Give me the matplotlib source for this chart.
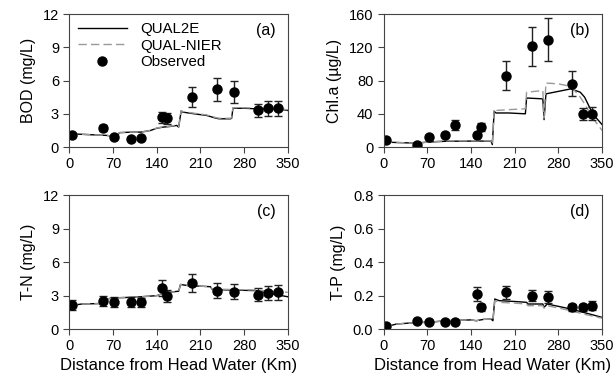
import numpy as np
import matplotlib
matplotlib.use('Agg')
import matplotlib.pyplot as plt
from matplotlib.lines import Line2D

plt.rcParams['font.family'] = ['Liberation Sans', 'DejaVu Sans']
plt.rcParams['font.size'] = 10

# observed stations (km from head water)
x_obs = [4, 54, 72, 98, 114, 149, 156, 196, 237, 263, 302, 319, 334]
bod = [1.1, 1.7, 0.9, 0.7, 0.8, 2.7, 2.6, 4.5, 5.2, 5.0, 3.3, 3.5, 3.5]
bod_err = [0.1, 0.25, 0.1, 0.1, 0.1, 0.5, 0.5, 0.9, 1.0, 1.0, 0.6, 0.7, 0.7]
chla = [8, 2.5, 12.5, 14.5, 27, 14, 24, 86, 121, 129, 76, 40, 40]
chla_err = [1, 1, 2, 2, 6, 2, 5, 17, 24, 26, 15, 7, 8]
tn = [2.2, 2.55, 2.4, 2.4, 2.4, 3.7, 2.95, 4.1, 3.45, 3.35, 3.1, 3.25, 3.3]
tn_err = [0.45, 0.45, 0.45, 0.45, 0.4, 0.7, 0.55, 0.8, 0.7, 0.65, 0.6, 0.65, 0.65]
tp = [0.02, 0.05, 0.04, 0.04, 0.04, 0.21, 0.13, 0.22, 0.20, 0.19, 0.13, 0.13, 0.14]
tp_err = [0.005, 0.008, 0.005, 0.005, 0.005, 0.04, 0.02, 0.04, 0.035, 0.035, 0.02, 0.02, 0.025]

# model results
bod_x = [0, 20, 40, 60, 66, 72, 76, 80, 100, 115, 130, 140, 150, 160, 172, 175, 179, 182, 200, 220, 235, 240, 258, 260, 262, 280, 300, 320, 340, 350]
bod_q2e = [1.2, 1.15, 1.1, 1.05, 1.0, 0.9, 0.95, 1.3, 1.35, 1.35, 1.5, 1.7, 1.8, 1.85, 1.95, 1.8, 3.25, 3.15, 3.0, 2.85, 2.6, 2.55, 2.55, 2.6, 3.5, 3.5, 3.45, 3.45, 3.4, 3.3]
bod_nier = [1.2, 1.15, 1.1, 1.05, 1.0, 0.9, 0.95, 1.3, 1.35, 1.35, 1.5, 1.72, 1.82, 1.87, 1.97, 1.82, 3.3, 3.2, 3.05, 2.9, 2.65, 2.6, 2.6, 2.65, 3.55, 3.55, 3.5, 3.5, 3.45, 3.35]

chla_x = [0, 20, 40, 55, 70, 100, 140, 172, 174, 177, 180, 200, 227, 229, 255, 257, 260, 280, 300, 315, 322, 335, 350]
chla_q2e = [6, 5.5, 5, 4.8, 6, 7, 7.2, 7.2, 3, 43, 41, 41, 40, 59, 58, 33, 64, 67, 70, 66, 60, 40, 27]
chla_nier = [6, 5.5, 5, 4.8, 6, 7.5, 7.5, 7.5, 3, 46, 44, 45, 46, 66, 68, 35, 77, 76, 73, 60, 52, 35, 20]

tn_x = [0, 20, 55, 60, 70, 100, 115, 140, 150, 160, 175, 178, 190, 210, 226, 229, 260, 300, 320, 350]
tn_q2e = [2.1, 2.25, 2.3, 2.7, 2.8, 2.85, 2.9, 3.0, 3.2, 3.3, 3.4, 4.0, 3.9, 3.85, 3.8, 3.55, 3.5, 3.45, 3.2, 2.9]
tn_nier = [2.1, 2.25, 2.3, 2.7, 2.8, 2.85, 2.9, 3.0, 3.2, 3.3, 3.4, 4.0, 3.9, 3.85, 3.8, 3.6, 3.55, 3.5, 3.4, 3.3]

tp_x = [0, 10, 20, 55, 70, 100, 140, 148, 160, 172, 175, 178, 185, 210, 229, 231, 255, 257, 262, 300, 320, 350]
tp_q2e = [0.015, 0.02, 0.03, 0.04, 0.04, 0.05, 0.055, 0.05, 0.058, 0.06, 0.05, 0.18, 0.17, 0.165, 0.16, 0.15, 0.15, 0.13, 0.15, 0.12, 0.1, 0.07]
tp_nier = [0.015, 0.02, 0.03, 0.04, 0.04, 0.05, 0.055, 0.05, 0.058, 0.06, 0.05, 0.17, 0.16, 0.155, 0.15, 0.14, 0.14, 0.125, 0.14, 0.11, 0.09, 0.065]

panels = [
    ('BOD (mg/L)', bod_x, bod_q2e, bod_nier, bod, bod_err, 12, 3, '(a)'),
    ('Chl.a (\u00b5g/L)', chla_x, chla_q2e, chla_nier, chla, chla_err, 160, 40, '(b)'),
    ('T-N (mg/L)', tn_x, tn_q2e, tn_nier, tn, tn_err, 12, 3, '(c)'),
    ('T-P (mg/L)', tp_x, tp_q2e, tp_nier, tp, tp_err, 0.8, 0.2, '(d)'),
]

fig = plt.figure(figsize=(6.15, 3.8), dpi=100)
pos = [(0.113, 0.613, 0.355, 0.35), (0.624, 0.613, 0.355, 0.35),
       (0.113, 0.134, 0.355, 0.352), (0.624, 0.134, 0.355, 0.352)]

dash = (0, (6, 3))
for i, (ylab, mx, q2e, nier, obs, err, ymax, ystep, tag) in enumerate(panels):
    ax = fig.add_axes(pos[i])
    ax.plot(mx, q2e, color='black', lw=1.0)
    ax.plot(mx, nier, color='#999999', lw=1.0, ls=dash)
    ax.errorbar(x_obs, obs, yerr=err, fmt='o', color='black', ms=6.5,
                ecolor='#222222', elinewidth=1.0, capsize=3, capthick=1.0)
    ax.set_xlim(0, 350)
    ax.set_ylim(0, ymax)
    ax.set_xticks(np.arange(0, 351, 70))
    ax.set_yticks(np.arange(0, ymax + ystep / 2, ystep))
    if ymax < 1:
        ax.set_yticklabels(['{:.1f}'.format(v) for v in np.arange(0, ymax + ystep / 2, ystep)])
    ax.set_ylabel(ylab, fontsize=11.5, labelpad=5)
    if i >= 2:
        ax.set_xlabel('Distance from Head Water (Km)', fontsize=12, labelpad=3)
    for s in ax.spines.values():
        s.set_color('#444444')
        s.set_linewidth(0.8)
    ax.tick_params(direction='out', length=4, width=0.8, color='#444444', labelsize=10.5)
    ax.text(0.9, 0.88, tag, transform=ax.transAxes, ha='center', va='center', fontsize=11.5)
    if i == 0:
        handles = [Line2D([], [], color='black', lw=1.0),
                   Line2D([], [], color='#999999', lw=1.0, ls=dash),
                   Line2D([], [], color='black', ls='none', marker='o', ms=6.5)]
        ax.legend(handles, ['QUAL2E', 'QUAL-NIER', 'Observed'], loc='upper left',
                  frameon=False, fontsize=10.8, handlelength=3.3,
                  borderaxespad=0.15, labelspacing=0.15, handletextpad=0.9)

fig.savefig('out.png', dpi=100)
